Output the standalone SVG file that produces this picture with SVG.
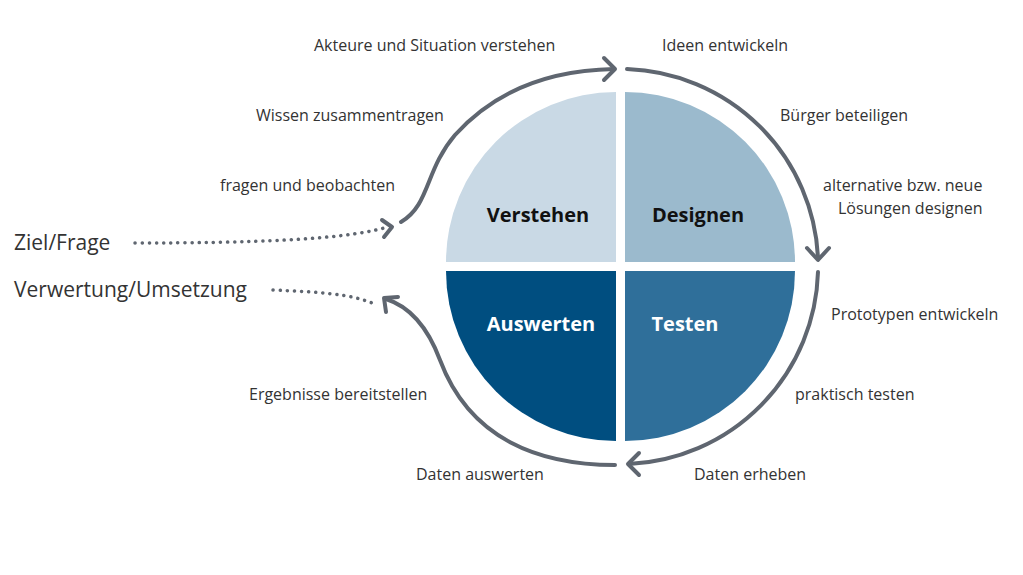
<svg xmlns="http://www.w3.org/2000/svg" width="1023" height="575" viewBox="0 0 1023 575">
<style>
.t{font-family:"Open Sans","Liberation Sans",sans-serif;font-size:16px;fill:#333}
.q{font-family:"Open Sans","Liberation Sans",sans-serif;font-size:20px;font-weight:bold;text-anchor:middle}
.big{font-family:"Open Sans","Liberation Sans",sans-serif;font-size:21px;fill:#333}
.a{fill:none;stroke:#5f6670;stroke-width:4;stroke-linecap:round;stroke-linejoin:round}
.d{fill:none;stroke:#5f6670;stroke-width:3.5;stroke-linecap:round;stroke-dasharray:0.1 7}
</style>
<rect width="1023" height="575" fill="#fff"/>
<g id="verstehen"><path d="M616 262 L446 262 A170 170 0 0 1 616 92 Z" fill="#c9d9e5"/><text class="q" x="538" y="222" fill="#111">Verstehen</text></g>
<g id="designen"><path d="M625 262 L625 92 A170 170 0 0 1 795 262 Z" fill="#9bbacd"/><text class="q" x="698" y="222" fill="#111">Designen</text></g>
<g id="auswerten"><path d="M616 271 L446 271 A170 170 0 0 0 616 441 Z" fill="#004e80"/><text class="q" x="541" y="331" fill="#fff">Auswerten</text></g>
<g id="testen"><path d="M625 271 L625 441 A170 170 0 0 0 795 271 Z" fill="#2f6f9a"/><text class="q" x="685" y="331" fill="#fff">Testen</text></g>
<g id="connectors">
<path class="a" d="M401 222 C430 205 425 170 455 135 C500 85 560 70 614 69"/>
<path class="a" d="M604 58 L615 69 L604 80"/>
<path class="a" d="M627 69 A198 198 0 0 1 818 258"/>
<path class="a" d="M807 248 L818 260 L829 248"/>
<path class="a" d="M818 272 A198 198 0 0 1 629 464"/>
<path class="a" d="M639 453 L628 464 L639 475"/>
<path class="a" d="M615 465 C540 465 470 440 440 360 C425 320 405 305 386 299"/>
<path class="a" d="M386 312 L384 298 L398 297"/>
<path class="d" d="M135 243 C250 243 340 240 384 228"/>
<path class="a" d="M382 220 L392 227 L384 237"/>
<path class="d" d="M273 290 C320 292 350 294 372 303"/>
</g>
<g id="labels">
<text class="t" x="314" y="51">Akteure und Situation verstehen</text>
<text class="t" x="662" y="51">Ideen entwickeln</text>
<text class="t" x="256" y="121">Wissen zusammentragen</text>
<text class="t" x="780" y="121">Bürger beteiligen</text>
<text class="t" x="220" y="191">fragen und beobachten</text>
<text class="t" x="823" y="191">alternative bzw. neue</text>
<text class="t" x="838" y="214">Lösungen designen</text>
<text class="big" x="14" y="250">Ziel/Frage</text>
<text class="big" x="14" y="297">Verwertung/Umsetzung</text>
<text class="t" x="831" y="320">Prototypen entwickeln</text>
<text class="t" x="249" y="400">Ergebnisse bereitstellen</text>
<text class="t" x="795" y="400">praktisch testen</text>
<text class="t" x="416" y="480">Daten auswerten</text>
<text class="t" x="694" y="480">Daten erheben</text>
</g>
</svg>
